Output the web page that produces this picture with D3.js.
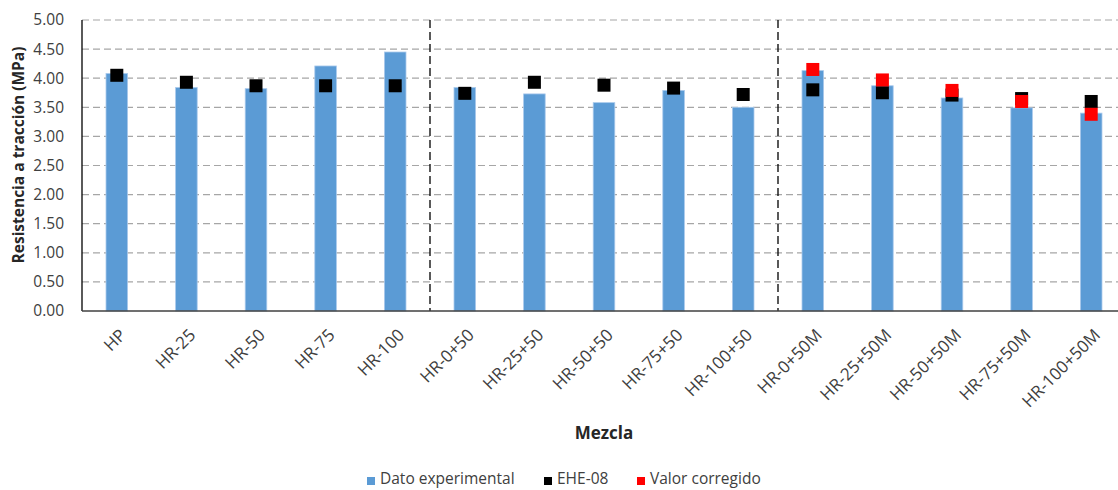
<!DOCTYPE html>
<html>
<head>
<meta charset="utf-8">
<script src="https://cdn.jsdelivr.net/npm/d3@7"></script>
<style>
  body { margin: 0; background: #fff; }
  svg { display: block; font-family: "Open Sans", sans-serif; }
</style>
</head>
<body>
<div id="chart"></div>
<script>
// mezclas
let categories = ['HP', 'HR-25', 'HR-50', 'HR-75', 'HR-100',
    'HR-0+50', 'HR-25+50', 'HR-50+50', 'HR-75+50', 'HR-100+50',
    'HR-0+50M', 'HR-25+50M', 'HR-50+50M', 'HR-75+50M', 'HR-100+50M'];
// Dato experimental
let experimental = [4.08, 3.84, 3.82, 4.21, 4.45,
    3.84, 3.73, 3.58, 3.79, 3.50,
    4.13, 3.87, 3.66, 3.49, 3.40];
// EHE-08
let ehe = [4.05, 3.93, 3.87, 3.87, 3.87,
    3.74, 3.93, 3.88, 3.83, 3.72,
    3.80, 3.75, 3.71, 3.65, 3.60];
// Valor corregido (solo mezclas con M)
let corregido = [null, null, null, null, null,
    null, null, null, null, null,
    4.15, 3.97, 3.79, 3.60, 3.38];
let yTicks = [0, 0.5, 1, 1.5, 2, 2.5, 3, 3.5, 4, 4.5, 5];
let separators = ['HR-0+50', 'HR-0+50M'];

(function () {
    let width = 1118, height = 490;
    let margin = { left: 82, top: 20 };
    let plotRight = 1126; // the original is cropped on the right
    let plotBottom = 311;

    let svg = d3.select('#chart').append('svg')
        .attr('width', width)
        .attr('height', height);

    let x = d3.scaleBand()
        .domain(categories)
        .range([margin.left, plotRight])
        .paddingInner(0.69)
        .paddingOuter(0.345);
    let xPos = d3.scaleBand()
        .domain(categories)
        .range([margin.left, plotRight]);
    let y = d3.scaleLinear()
        .domain([0, 5])
        .range([plotBottom, margin.top]);

    // gridlines
    svg.append('g')
        .selectAll('line')
        .data(yTicks.filter(function (d) { return d > 0; }))
        .enter().append('line')
        .attr('x1', margin.left)
        .attr('x2', width)
        .attr('y1', function (d) { return y(d); })
        .attr('y2', function (d) { return y(d); })
        .style('stroke', '#a6a6a6')
        .style('stroke-width', 1.2)
        .style('stroke-dasharray', '7,4');

    // y tick labels
    svg.append('g')
        .selectAll('text')
        .data(yTicks)
        .enter().append('text')
        .attr('x', 64)
        .attr('y', function (d) { return y(d); })
        .attr('dy', '0.35em')
        .attr('text-anchor', 'end')
        .style('font-size', '15.5px')
        .style('fill', '#404040')
        .text(function (d) { return d.toFixed(2); });

    // bars
    svg.append('g')
        .selectAll('rect')
        .data(experimental)
        .enter().append('rect')
        .attr('x', function (d, i) { return x(categories[i]); })
        .attr('y', function (d) { return y(d); })
        .attr('width', x.bandwidth())
        .attr('height', function (d) { return plotBottom - y(d); })
        .style('fill', '#5b9bd5')
        .style('stroke', '#a9c9ec')
        .style('stroke-width', 0.8);

    // group separators
    svg.append('g')
        .selectAll('line')
        .data(separators)
        .enter().append('line')
        .attr('x1', function (d) { return xPos(d); })
        .attr('x2', function (d) { return xPos(d); })
        .attr('y1', margin.top)
        .attr('y2', plotBottom)
        .style('stroke', '#000')
        .style('stroke-width', 1.3)
        .style('stroke-dasharray', '8,4');

    // axes lines
    svg.append('line')
        .attr('x1', margin.left).attr('x2', margin.left)
        .attr('y1', margin.top).attr('y2', plotBottom)
        .style('stroke', '#000').style('stroke-width', 1.3);
    svg.append('line')
        .attr('x1', margin.left).attr('x2', width)
        .attr('y1', plotBottom).attr('y2', plotBottom)
        .style('stroke', '#404040').style('stroke-width', 1.5);

    let markerSize = 13;
    let cx = function (i) { return x(categories[i]) + x.bandwidth() / 2; };

    // EHE-08 markers
    svg.append('g')
        .selectAll('rect')
        .data(ehe)
        .enter().append('rect')
        .attr('x', function (d, i) { return cx(i) - markerSize / 2; })
        .attr('y', function (d) { return y(d) - markerSize / 2; })
        .attr('width', markerSize)
        .attr('height', markerSize)
        .style('fill', '#000');

    // Valor corregido markers
    svg.append('g')
        .selectAll('rect')
        .data(corregido.map(function (v, i) { return { v: v, i: i }; })
            .filter(function (d) { return d.v !== null; }))
        .enter().append('rect')
        .attr('x', function (d) { return cx(d.i) - markerSize / 2; })
        .attr('y', function (d) { return y(d.v) - markerSize / 2; })
        .attr('width', markerSize)
        .attr('height', markerSize)
        .style('fill', '#ff0000');

    // x tick labels
    svg.append('g')
        .selectAll('text')
        .data(categories)
        .enter().append('text')
        .attr('transform', function (d, i) {
            return 'translate(' + (cx(i) + 6) + ',' + 332 + ') rotate(-45)';
        })
        .attr('text-anchor', 'end')
        .attr('dy', '0.35em')
        .style('font-size', '17px')
        .style('fill', '#404040')
        .text(function (d) { return d; });

    // axis titles
    svg.append('text')
        .attr('transform', 'translate(' + 24 + ',' + 155 + ') rotate(-90)')
        .attr('text-anchor', 'middle')
        .style('font-size', '15.5px')
        .style('font-weight', 'bold')
        .style('fill', '#262626')
        .text('Resistencia a tracción (MPa)');
    svg.append('text')
        .attr('x', (margin.left + plotRight) / 2)
        .attr('y', 439)
        .attr('text-anchor', 'middle')
        .style('font-size', '17px')
        .style('font-weight', 'bold')
        .style('fill', '#262626')
        .text('Mezcla');

    // legend
    let legendItems = [
        { label: 'Dato experimental', color: '#5b9bd5', x: 367 },
        { label: 'EHE-08', color: '#000000', x: 544 },
        { label: 'Valor corregido', color: '#ff0000', x: 637 }
    ];
    let legend = svg.append('g')
        .selectAll('g')
        .data(legendItems)
        .enter().append('g')
        .attr('transform', function (d) { return 'translate(' + d.x + ',' + 484 + ')'; });
    legend.append('rect')
        .attr('x', 0).attr('y', -7)
        .attr('width', 8).attr('height', 8)
        .style('fill', function (d) { return d.color; });
    legend.append('text')
        .attr('x', 13)
        .style('font-size', '15.5px')
        .style('fill', '#404040')
        .text(function (d) { return d.label; });
})();
</script>
</body>
</html>
